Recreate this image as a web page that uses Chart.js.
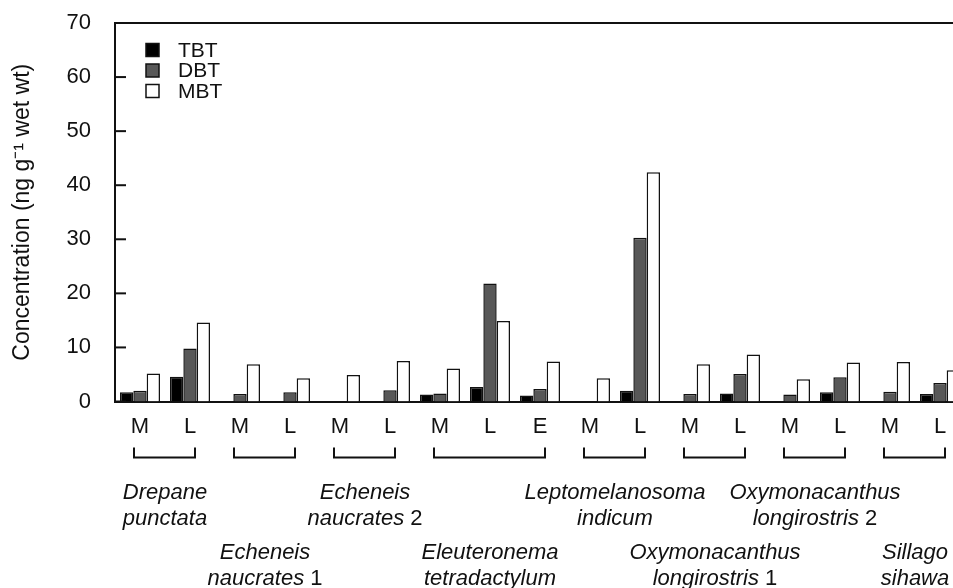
<!DOCTYPE html>
<html>
<head>
<meta charset="utf-8">
<script src="https://cdn.jsdelivr.net/npm/chart.js@4.4.1/dist/chart.umd.min.js"></script>
<style>
  html, body { margin: 0; padding: 0; background: #fff; overflow: hidden; }
  #wrap { width: 953px; height: 588px; overflow: hidden; }
</style>
</head>
<body>
<div id="wrap">
  <canvas id="myChart" width="965" height="588"></canvas>
</div>
<script>
// tissue code under each bar group
const tissues = ["M", "L", "M", "L", "M", "L", "M", "L", "E", "M", "L", "M", "L", "M", "L", "M", "L"];

// butyltin concentrations, ng/g wet wt
const tbt = [1.7, 4.6, 0, 0, 0, 0, 1.3, 2.7, 1.1, 0, 2.0, 0, 1.5, 0, 1.7, 0, 1.4];
const dbt = [2.0, 9.8, 1.4, 1.7, 0, 2.1, 1.5, 21.8, 2.3, 0, 30.3, 1.4, 5.1, 1.3, 4.5, 1.8, 3.4];
const mbt = [5.2, 14.6, 6.9, 4.3, 4.9, 7.5, 6.1, 14.9, 7.4, 4.3, 42.4, 6.9, 8.7, 4.1, 7.2, 7.3, 5.8];

// species names (two lines), the tissue columns they cover, and which label row they sit in
const speciesNames = [
  ["Drepane", "punctata"],
  ["Echeneis", "naucrates 1"],
  ["Echeneis", "naucrates 2"],
  ["Eleuteronema", "tetradactylum"],
  ["Leptomelanosoma", "indicum"],
  ["Oxymonacanthus", "longirostris 1"],
  ["Oxymonacanthus", "longirostris 2"],
  ["Sillago", "sihawa"],
];
const speciesFirst = [0, 2, 4, 6, 9, 11, 13, 15];
const speciesLast = [1, 3, 5, 8, 10, 12, 14, 16];
const speciesRow = [0, 1, 0, 1, 0, 1, 0, 1];

const FONT = "'Liberation Sans', Arial, Helvetica, sans-serif";
const INK = "#111";

// draws a species name in italics, keeping a trailing number upright
const drawSpeciesLine = (ctx, text, cx, y) => {
  const m = text.match(/^(.*?)( \d+)$/);
  const it = m ? m[1] : text;
  const num = m ? m[2] : "";
  ctx.font = "italic 22px " + FONT;
  const w1 = ctx.measureText(it).width;
  ctx.font = "22px " + FONT;
  const w2 = num ? ctx.measureText(num).width : 0;
  const x0 = cx - (w1 + w2) / 2;
  ctx.textAlign = "left";
  ctx.font = "italic 22px " + FONT;
  ctx.fillText(it, x0, y);
  if (num) {
    ctx.font = "22px " + FONT;
    ctx.fillText(num, x0 + w1, y);
  }
};

const extras = {
  id: "extras",
  afterDraw(chart) {
    const { ctx, chartArea } = chart;
    const x = chart.scales.x;
    const y = chart.scales.y;
    ctx.save();
    ctx.strokeStyle = "#111";
    ctx.fillStyle = INK;
    ctx.lineWidth = 2;

    // frame line along the top
    ctx.beginPath();
    ctx.moveTo(chartArea.left, chartArea.top);
    ctx.lineTo(chartArea.right, chartArea.top);
    ctx.stroke();

    // inward ticks on the y axis
    y.ticks.forEach(t => {
      const py = y.getPixelForValue(t.value);
      const len = t.value % 10 === 0 ? 11 : 5;
      ctx.beginPath();
      ctx.moveTo(chartArea.left, py);
      ctx.lineTo(chartArea.left + len, py);
      ctx.stroke();
    });

    // brackets and species names
    const base = chartArea.bottom;
    speciesNames.forEach((lines, i) => {
      const x0 = x.getPixelForValue(speciesFirst[i]) - 6;
      const x1 = x.getPixelForValue(speciesLast[i]) + 5;
      ctx.beginPath();
      ctx.moveTo(x0, base + 46);
      ctx.lineTo(x0, base + 56);
      ctx.lineTo(x1, base + 56);
      ctx.lineTo(x1, base + 46);
      ctx.stroke();

      const cx = (x.getPixelForValue(speciesFirst[i]) + x.getPixelForValue(speciesLast[i])) / 2;
      const top = speciesRow[i] === 0 ? base + 97 : base + 157;
      ctx.textBaseline = "alphabetic";
      drawSpeciesLine(ctx, lines[0], cx, top);
      drawSpeciesLine(ctx, lines[1], cx, top + 26);
    });

    // legend, top left inside the plot
    ctx.lineWidth = 1.5;
    ctx.textBaseline = "middle";
    ctx.textAlign = "left";
    ctx.font = "21px " + FONT;
    chart.data.datasets.forEach((ds, i) => {
      const cy = chartArea.top + 27 + i * 20.5;
      const sx = chartArea.left + 31;
      ctx.fillStyle = ds.backgroundColor;
      ctx.fillRect(sx, cy - 6.5, 13, 13);
      ctx.strokeRect(sx, cy - 6.5, 13, 13);
      ctx.fillStyle = INK;
      ctx.fillText(ds.label, sx + 32, cy + 1);
    });
    ctx.restore();
  },
};

const ctx = document.getElementById("myChart").getContext("2d");
new Chart(ctx, {
  type: "bar",
  data: {
    labels: tissues,
    datasets: [
      { label: "TBT", data: tbt, backgroundColor: "#000000" },
      { label: "DBT", data: dbt, backgroundColor: "#585858" },
      { label: "MBT", data: mbt, backgroundColor: "#ffffff" },
    ],
  },
  options: {
    responsive: false,
    animation: false,
    layout: { padding: { top: 23, right: 0, bottom: 0, left: 0 } },
    datasets: {
      bar: {
        categoryPercentage: 0.8,
        barPercentage: 1.0,
        borderColor: "#111",
        borderWidth: 1.5,
      },
    },
    plugins: {
      legend: { display: false },
      tooltip: { enabled: false },
    },
    scales: {
      x: {
        grid: { display: false, drawTicks: false },
        border: { display: true, color: "#111", width: 2 },
        ticks: {
          color: INK,
          font: { family: FONT, size: 22 },
          padding: 12,
          maxRotation: 0,
          autoSkip: false,
        },
        afterFit: s => { s.height = 186.5; s.paddingLeft = 0; s.paddingRight = 0; },
      },
      y: {
        min: 0,
        max: 70,
        grid: { display: false, drawTicks: false },
        border: { display: true, color: "#111", width: 2 },
        ticks: {
          stepSize: 5,
          color: INK,
          font: { family: FONT, size: 22 },
          padding: 24,
          callback: v => (v % 10 === 0 ? v : ""),
        },
        title: {
          display: true,
          text: "Concentration (ng g\u207B\u00B9 wet wt)",
          color: INK,
          font: { family: FONT, size: 23 },
          padding: { top: 9, bottom: 0 },
        },
        afterFit: s => { s.width = 115; s.paddingTop = 0; s.paddingBottom = 0; },
      },
    },
  },
  plugins: [extras],
});
</script>
</body>
</html>
